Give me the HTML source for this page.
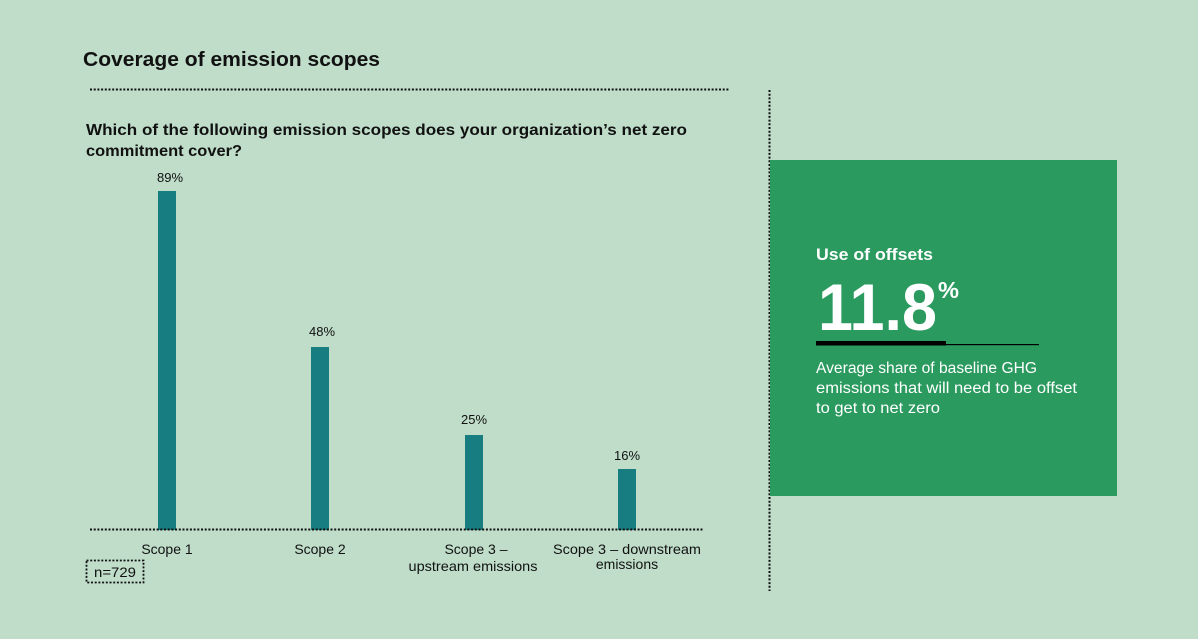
<!DOCTYPE html>
<html><head><meta charset="utf-8"><style>
html,body{margin:0;padding:0;background:#bfddc9;}
svg{display:block;}
text{font-family:"Liberation Sans",sans-serif;}
</style></head><body>
<svg width="1198" height="639" viewBox="0 0 1198 639" xmlns="http://www.w3.org/2000/svg">
<rect width="1198" height="639" fill="#bfddc9"/>
<text x="83" y="66" font-size="20" font-weight="bold" fill="#111" textLength="297" lengthAdjust="spacingAndGlyphs">Coverage of emission scopes</text>
<line x1="90" y1="89.5" x2="730" y2="89.5" stroke="#111" stroke-width="2" stroke-dasharray="2,1.7"/>
<text x="86" y="135" font-size="16" font-weight="bold" fill="#111" textLength="601" lengthAdjust="spacingAndGlyphs">Which of the following emission scopes does your organization’s net zero</text>
<text x="86" y="156" font-size="16" font-weight="bold" fill="#111" textLength="156" lengthAdjust="spacingAndGlyphs">commitment cover?</text>
<g fill="#177d80">
<rect x="158" y="191" width="18" height="339"/>
<rect x="311" y="347" width="18" height="183"/>
<rect x="465" y="435" width="18" height="95"/>
<rect x="618" y="469" width="18" height="61"/>
</g>
<g font-size="13" fill="#111" text-anchor="middle">
<text x="170" y="182">89%</text>
<text x="322" y="336">48%</text>
<text x="474" y="424">25%</text>
<text x="627" y="460">16%</text>
</g>
<line x1="90" y1="529.5" x2="703" y2="529.5" stroke="#111" stroke-width="2" stroke-dasharray="2,1.7"/>
<g font-size="14" fill="#111" text-anchor="middle">
<text x="167" y="554">Scope 1</text>
<text x="320" y="554">Scope 2</text>
<text x="476" y="554">Scope 3 –</text>
<text x="473" y="571" textLength="129" lengthAdjust="spacingAndGlyphs">upstream emissions</text>
<text x="627" y="554" textLength="148" lengthAdjust="spacingAndGlyphs">Scope 3 – downstream</text>
<text x="627" y="569">emissions</text>
</g>
<rect x="86.5" y="560.5" width="57" height="22" fill="none" stroke="#111" stroke-width="1.8" stroke-dasharray="2,1.7"/>
<text x="94" y="577" font-size="14" fill="#111" textLength="42" lengthAdjust="spacingAndGlyphs">n=729</text>
<line x1="769.5" y1="90" x2="769.5" y2="591" stroke="#111" stroke-width="2" stroke-dasharray="2,1.7"/>
<rect x="770" y="160" width="347" height="336" fill="#2a9a5f"/>
<text x="816" y="260" font-size="17" font-weight="bold" fill="#fff" textLength="117" lengthAdjust="spacingAndGlyphs">Use of offsets</text>
<text x="818" y="330" font-size="66" font-weight="bold" fill="#fff" textLength="119" lengthAdjust="spacingAndGlyphs">11.8</text>
<text x="938" y="298" font-size="23" font-weight="bold" fill="#fff" textLength="21" lengthAdjust="spacingAndGlyphs">%</text>
<rect x="816" y="341" width="130" height="4.5" fill="#000"/>
<rect x="946" y="344" width="93" height="1.2" fill="#000"/>
<g font-size="15.5" fill="#fff">
<text x="816" y="373" textLength="221" lengthAdjust="spacingAndGlyphs">Average share of baseline GHG</text>
<text x="816" y="393" textLength="261" lengthAdjust="spacingAndGlyphs">emissions that will need to be offset</text>
<text x="816" y="413" textLength="124" lengthAdjust="spacingAndGlyphs">to get to net zero</text>
</g>
</svg>
</body></html>
